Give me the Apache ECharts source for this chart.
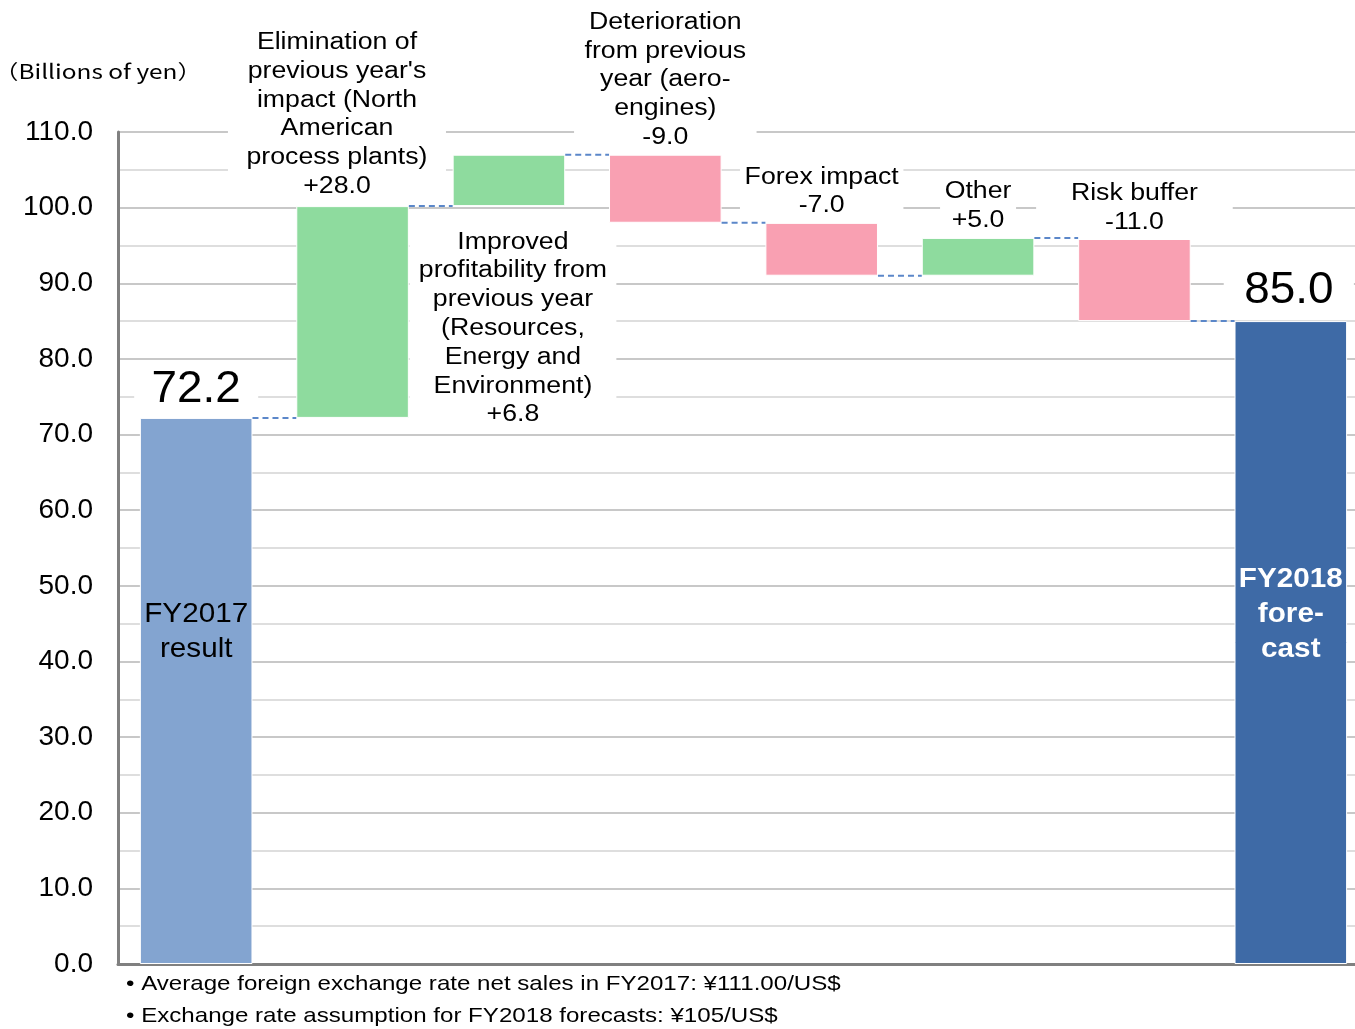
<!DOCTYPE html>
<html>
<head>
<meta charset="utf-8">
<script src="https://cdn.jsdelivr.net/npm/echarts@6/dist/echarts.min.js"></script>
<style>
html,body{margin:0;padding:0;background:#fff;overflow:hidden;}
#chart{width:1369px;height:1029px;}
</style>
</head>
<body>
<div id="chart"></div>
<script>
// ---------- data ----------
const startLabel = 'FY2017\nresult';
const endLabel = 'FY2018\nfore-\ncast';
const startValue = 72.2;
const endValue = 85.0;
const stepLabels = [
  "Elimination of\nprevious year's\nimpact (North\nAmerican\nprocess plants)",
  "Improved\nprofitability from\nprevious year\n(Resources,\nEnergy and\nEnvironment)",
  "Deterioration\nfrom previous\nyear (aero-\nengines)",
  "Forex impact",
  "Other",
  "Risk buffer"
];
const stepValues = [28.0, 6.8, -9.0, -7.0, 5.0, -11.0];
const yMin = 0, yMax = 110, yStep = 10;
const unitTitle = '（Billions of yen）';
const footnotes = [
  '• Average foreign exchange rate net sales in FY2017: ¥111.00/US$',
  '• Exchange rate assumption for FY2018 forecasts: ¥105/US$'
];

// ---------- derived ----------
const categories = [startLabel].concat(stepLabels, [endLabel]);
const levels = [startValue];
stepValues.forEach(v => levels.push(+(levels[levels.length - 1] + v).toFixed(1)));
const baseData = [0], deltaData = [startValue];
stepValues.forEach((v, i) => {
  baseData.push(Math.min(levels[i], levels[i + 1]));
  deltaData.push(Math.abs(v));
});
baseData.push(0); deltaData.push(endValue);
const fmt = v => (v > 0 ? '+' : '') + v.toFixed(1);

const COL_START = '#83a4d0', COL_END = '#3e6aa6', COL_UP = '#8edb9e', COL_DOWN = '#f9a0b2';
const deltaItems = deltaData.map((v, i) => {
  let c;
  if (i === 0) c = COL_START;
  else if (i === deltaData.length - 1) c = COL_END;
  else c = stepValues[i - 1] >= 0 ? COL_UP : COL_DOWN;
  return { value: v, itemStyle: { color: c } };
});

const connectorData = levels.map((lv, i) => [i, lv]);

// ---------- annotation layout (style only) ----------
const FONT = 'Liberation Sans, Arial, sans-serif';
const SX = 1.16;
const annots = [];
annots.push({ i: 0, text: startValue.toFixed(1), val: startValue, where: 'top', dx: 0, gap: 1.5, size: 45, lh: 50, sx: 1.02, pad: [2, 17, 2, 17] });
const stepLayout = [
  { dx: -15.6, gap: 2.0, pad: [3, 16, 3, 16], where: 'top' },
  { dx: 4, gap: 18.8, pad: [3, 8, 3, 8], where: 'bottom' },
  { dx: 0, gap: -0.3, pad: [3, 9, 3, 9], where: 'top' },
  { dx: 0, gap: -0.7, pad: [3, 4, 3, 4], where: 'top' },
  { dx: 0, gap: -0.1, pad: [3, 4, 3, 4], where: 'top' },
  { dx: 0, gap: -2.0, pad: [3, 30, 3, 30], where: 'top' }
];
stepValues.forEach((v, k) => {
  const L = stepLayout[k];
  const top = Math.max(levels[k], levels[k + 1]);
  const bot = Math.min(levels[k], levels[k + 1]);
  annots.push({ i: k + 1, text: stepLabels[k] + '\n' + fmt(v), val: L.where === 'top' ? top : bot,
    where: L.where, dx: L.dx, gap: L.gap, size: 23, lh: 28.8, sx: SX, pad: L.pad });
});
annots.push({ i: categories.length - 1, text: endValue.toFixed(1), val: endValue, where: 'top', dx: -2, gap: 3.6, size: 45, lh: 50, sx: 1.02, pad: [2, 20, 2, 20] });

const innerAnnots = [
  { i: 0, text: startLabel, color: '#000', weight: 'normal' },
  { i: categories.length - 1, text: endLabel, color: '#fff', weight: 'bold' }
];

const chart = echarts.init(document.getElementById('chart'), null, { renderer: 'canvas' });

chart.setOption({
  animation: false,
  backgroundColor: '#fff',
  grid: { left: 118, top: 132, right: 0, height: 832 },
  xAxis: {
    type: 'category',
    data: categories,
    axisLine: { show: true, lineStyle: { color: '#808080', width: 3 } },
    axisTick: { show: false },
    axisLabel: { show: false },
    splitLine: { show: false }
  },
  yAxis: {
    type: 'value',
    min: yMin, max: yMax, interval: yStep,
    axisLine: { show: true, lineStyle: { color: '#808080', width: 3 } },
    axisTick: { show: false },
    axisLabel: { formatter: v => v.toFixed(1), fontSize: 28, fontFamily: FONT, color: '#000', margin: 25, padding: [4, 0, 0, 0] },
    splitLine: { show: true, lineStyle: { color: '#c8c8c8', width: 2 } },
    minorTick: { show: false, splitNumber: 2 },
    minorSplitLine: { show: true, lineStyle: { color: '#dedede', width: 2 } }
  },
  series: [
    {
      type: 'bar', stack: 'w', barWidth: '72%', silent: true,
      itemStyle: { color: 'rgba(0,0,0,0)' },
      data: baseData
    },
    {
      type: 'bar', stack: 'w', barWidth: '72%', silent: true,
      itemStyle: { borderColor: '#fff', borderWidth: 1 },
      data: deltaItems
    },
    {
      type: 'custom', silent: true, z: 5,
      data: annots.map(a => [a.i, a.val]),
      renderItem: function (params, api) {
        const a = annots[params.dataIndex];
        const p = api.coord([a.i, a.val]);
        const y = a.where === 'top' ? p[1] - a.gap : p[1] + a.gap;
        return {
          type: 'text',
          x: p[0] + a.dx, y: y, scaleX: a.sx,
          style: {
            x: 0, y: 0,
            text: a.text,
            fill: '#000',
            fontSize: a.size, fontFamily: FONT,
            lineHeight: a.lh,
            align: 'center',
            verticalAlign: a.where === 'top' ? 'bottom' : 'top',
            backgroundColor: '#fff',
            padding: a.pad
          }
        };
      }
    },
    {
      type: 'custom', silent: true, z: 6,
      data: innerAnnots.map(a => [a.i, 0]),
      renderItem: function (params, api) {
        const a = innerAnnots[params.dataIndex];
        const p = api.coord([a.i, 39.35]);
        return {
          type: 'text',
          x: p[0], y: p[1], scaleX: 1.06,
          style: {
            x: 0, y: 0,
            text: a.text, fill: a.color,
            fontSize: 28, fontWeight: a.weight, fontFamily: FONT,
            lineHeight: 35, align: 'center', verticalAlign: 'bottom'
          }
        };
      }
    },
    {
      type: 'custom', silent: true, z: 7,
      data: connectorData,
      renderItem: function (params, api) {
        const i = api.value(0), lv = api.value(1);
        const p = api.coord([i, lv]);
        const band = api.size([1, 0])[0];
        const half = band * 0.36;
        return {
          type: 'line',
          shape: { x1: p[0] + half, y1: p[1], x2: p[0] + band - half, y2: p[1] },
          style: { stroke: '#5b87c9', lineWidth: 2, lineDash: [6, 4] }
        };
      }
    }
  ],
  graphic: [
    { type: 'text', x: -6, y: 61, scaleX: 1.22, style: { x: 0, y: 0, text: unitTitle, fontSize: 20, fontFamily: 'Noto Sans CJK JP, sans-serif', fill: '#000' } },
    { type: 'text', x: 126, y: 984, scaleX: 1.148, style: { x: 0, y: 0, text: footnotes[0], fontSize: 21, fontFamily: FONT, fill: '#000', verticalAlign: 'middle' } },
    { type: 'text', x: 126, y: 1016, scaleX: 1.148, style: { x: 0, y: 0, text: footnotes[1], fontSize: 21, fontFamily: FONT, fill: '#000', verticalAlign: 'middle' } }
  ]
});
</script>
</body>
</html>
